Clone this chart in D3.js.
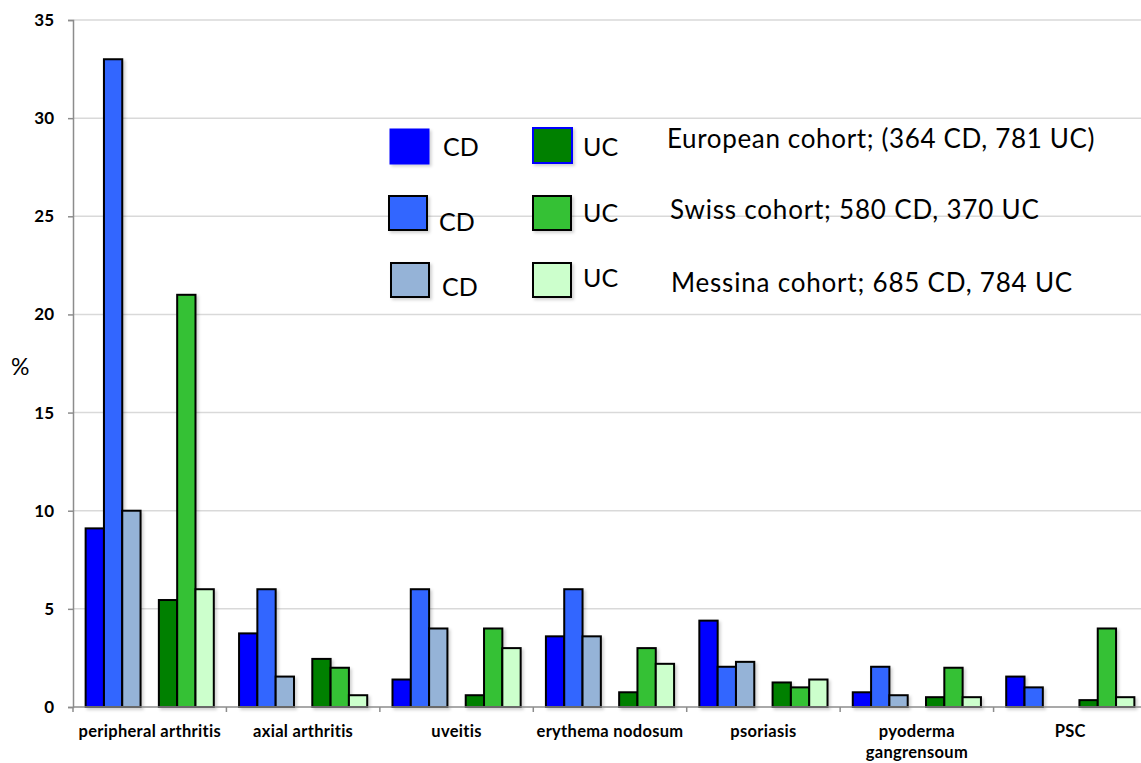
<!DOCTYPE html>
<html>
<head>
<meta charset="utf-8">
<script src="https://cdn.jsdelivr.net/npm/d3@7"></script>
<style>
  html, body { margin: 0; padding: 0; background: #fff; }
  svg { display: block; font-family: Lato, "Open Sans", sans-serif; }
</style>
</head>
<body>
<svg id="chart" width="1141" height="763"></svg>
<script>
// ---- data ----
const categories = ["peripheral arthritis", "axial arthritis", "uveitis", "erythema nodosum", "psoriasis", "pyoderma gangrensoum", "PSC"];
const tickLabels = ["peripheral arthritis", "axial arthritis", "uveitis", "erythema nodosum", "psoriasis", "pyoderma\ngangrensoum", "PSC"];
const yTicks = [0, 5, 10, 15, 20, 25, 30, 35];
const cdEuropean = [9.1, 3.75, 1.4, 3.6, 4.4, 0.75, 1.55];
const cdSwiss    = [33, 6, 6, 6, 2.05, 2.05, 1.0];
const cdMessina  = [10, 1.55, 4, 3.6, 2.3, 0.6, null];
const ucEuropean = [5.45, 2.45, 0.6, 0.75, 1.25, 0.5, 0.35];
const ucSwiss    = [21, 2, 4, 3, 1, 2, 4];
const ucMessina  = [6, 0.6, 3, 2.2, 1.4, 0.5, 0.5];
const slots = ["CD European", "CD Swiss", "CD Messina", "gap", "UC European", "UC Swiss", "UC Messina"];
const legendCohorts = ["European cohort; (364 CD, 781 UC)", "Swiss cohort; 580 CD, 370 UC", "Messina cohort; 685 CD, 784 UC"];

const series = [
  { key: "CD European", values: cdEuropean, color: "#0000FF" },
  { key: "CD Swiss",    values: cdSwiss,    color: "#3366FF" },
  { key: "CD Messina",  values: cdMessina,  color: "#95B3D7" },
  { key: "UC European", values: ucEuropean, color: "#008000" },
  { key: "UC Swiss",    values: ucSwiss,    color: "#35C135" },
  { key: "UC Messina",  values: ucMessina,  color: "#CCFFCC" }
];

(function () {
// ---- layout ----
const svg = d3.select("#chart");
const mLeft = 73, mRight = 1147, mTop = 20, mBottom = 707;

const x = d3.scaleBand().domain(categories).range([mLeft, mRight]).padding(0);
const xs = d3.scaleBand().domain(slots).range([0, x.bandwidth()]).paddingInner(0).paddingOuter(0.69);
const y = d3.scaleLinear().domain([0, 35]).range([mBottom, mTop]);

const defs = svg.append("defs");
const f = defs.append("filter").attr("id", "sh").attr("x", "-30%").attr("y", "-10%").attr("width", "160%").attr("height", "130%");
f.append("feDropShadow").attr("dx", 2).attr("dy", 2).attr("stdDeviation", 1.5).attr("flood-color", "#000").attr("flood-opacity", 0.18);

// gridlines
svg.append("g").selectAll("line").data(yTicks.filter(d => d > 0)).join("line")
  .attr("x1", mLeft).attr("x2", 1141)
  .attr("y1", d => y(d)).attr("y2", d => y(d))
  .attr("stroke", "#d9d9d9").attr("stroke-width", 1.5);

// y axis
const yAxis = svg.append("g").attr("transform", `translate(${mLeft},0)`)
  .call(d3.axisLeft(y).tickValues(yTicks).tickSize(5).tickPadding(14));
yAxis.select(".domain").attr("stroke", "#8c8c8c").attr("stroke-width", 1.5);
yAxis.selectAll(".tick line").attr("stroke", "#8c8c8c").attr("stroke-width", 1.5);
yAxis.selectAll(".tick text").attr("font-family", "Lato, sans-serif").attr("font-size", 17).attr("font-weight", "bold").attr("fill", "#000");

svg.append("text").attr("x", 11).attr("y", 375).attr("font-size", 23).attr("fill", "#000").text("%");

// bars
const bars = [];
series.forEach(s => s.values.forEach((v, i) => { if (v != null) bars.push({ cat: categories[i], key: s.key, v, color: s.color }); }));
svg.append("g").attr("filter", "url(#sh)").selectAll("rect").data(bars).join("rect")
  .attr("x", d => x(d.cat) + xs(d.key))
  .attr("width", xs.bandwidth())
  .attr("y", d => y(d.v))
  .attr("height", d => y(0) - y(d.v))
  .attr("fill", d => d.color)
  .attr("stroke", "#000").attr("stroke-width", 2);

// x axis
svg.append("line").attr("x1", mLeft).attr("x2", 1141).attr("y1", mBottom).attr("y2", mBottom)
  .attr("stroke", "#8c8c8c").attr("stroke-width", 1.5);
svg.append("g").selectAll("line").data(categories).join("line")
  .attr("x1", d => x(d)).attr("x2", d => x(d)).attr("y1", mBottom).attr("y2", mBottom + 5)
  .attr("stroke", "#8c8c8c").attr("stroke-width", 1.5);
const xAxis = svg.append("g").attr("transform", `translate(0,${mBottom})`)
  .call(d3.axisBottom(x).tickSize(0).tickFormat(() => ""));
xAxis.select(".domain").remove();
xAxis.selectAll(".tick text").each(function (d, i) {
  const t = d3.select(this).attr("font-family", "Lato, sans-serif").attr("font-size", 16.5).attr("font-weight", "bold").attr("fill", "#000").attr("y", 0).attr("dy", 0).attr("letter-spacing", 0.3);
  tickLabels[i].split("\n").forEach((line, j) => {
    t.append("tspan").attr("x", 0).attr("y", 30 + j * 21).text(line);
  });
});

// legend
const legendRows = [
  { cd: series[0], uc: series[3], cdBox: [390, 129, 39, 35], ucBox: [533, 128, 39, 35], cdText: [443, 156], ucText: [583, 156], cohort: [667, 148], noStroke: true },
  { cd: series[1], uc: series[4], cdBox: [389, 196, 38, 34], ucBox: [533, 196, 38, 34], cdText: [439, 231], ucText: [583, 222], cohort: [670, 219] },
  { cd: series[2], uc: series[5], cdBox: [391, 263, 38, 34], ucBox: [533, 263, 38, 34], cdText: [442, 296], ucText: [583, 287], cohort: [671, 292] }
];
const lg = svg.append("g");
legendRows.forEach((r, i) => {
  lg.append("rect").attr("x", r.cdBox[0]).attr("y", r.cdBox[1]).attr("width", r.cdBox[2]).attr("height", r.cdBox[3])
    .attr("fill", r.cd.color).attr("stroke", r.noStroke ? r.cd.color : "#000").attr("stroke-width", r.noStroke ? 1 : 2)
    .attr("filter", "url(#sh)");
  lg.append("rect").attr("x", r.ucBox[0]).attr("y", r.ucBox[1]).attr("width", r.ucBox[2]).attr("height", r.ucBox[3])
    .attr("fill", r.uc.color).attr("stroke", r.noStroke ? "#0000FF" : "#000").attr("stroke-width", 2)
    .attr("filter", "url(#sh)");
  lg.append("text").attr("x", r.cdText[0]).attr("y", r.cdText[1]).attr("font-size", 25).attr("fill", "#000").text("CD");
  lg.append("text").attr("x", r.ucText[0]).attr("y", r.ucText[1]).attr("font-size", 25).attr("fill", "#000").text("UC");
  lg.append("text").attr("x", r.cohort[0]).attr("y", r.cohort[1]).attr("font-size", 26)
    .attr("letter-spacing", i === 0 ? 0.65 : 0.8).attr("fill", "#000").text(legendCohorts[i]);
});
})();
</script>
</body>
</html>
